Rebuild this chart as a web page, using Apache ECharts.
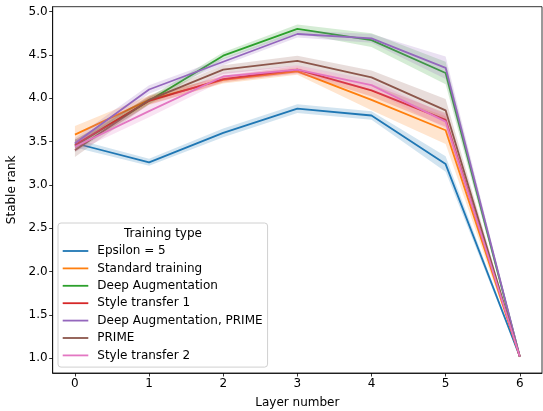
<!DOCTYPE html>
<html>
<head>
<meta charset="utf-8">
<script src="https://cdn.jsdelivr.net/npm/echarts@6/dist/echarts.min.js"></script>
<style>
  html, body { margin: 0; padding: 0; background: #fff; }
  #chart { width: 543px; height: 411px; }
</style>
</head>
<body>
<div id="chart"></div>
<script>
// layer index on x
const layers = [0, 1, 2, 3, 4, 5, 6];
const xTicks = [0, 1, 2, 3, 4, 5, 6];
const yTicks = [1.0, 1.5, 2.0, 2.5, 3.0, 3.5, 4.0, 4.5, 5.0];

// mean stable rank per training type
const epsilon5 = [3.48, 3.26, 3.60, 3.88, 3.80, 3.24, 1.02];
const standardTraining = [3.58, 3.98, 4.21, 4.31, 3.98, 3.63, 1.02];
const deepAug = [3.45, 3.97, 4.49, 4.80, 4.67, 4.29, 1.02];
const styleTransfer1 = [3.46, 3.97, 4.22, 4.33, 4.09, 3.75, 1.02];
const deepAugPrime = [3.48, 4.10, 4.42, 4.74, 4.69, 4.35, 1.02];
const prime = [3.40, 3.98, 4.33, 4.43, 4.24, 3.86, 1.02];
const styleTransfer2 = [3.44, 3.85, 4.25, 4.33, 4.15, 3.73, 1.02];

// half width of the confidence band
const epsilon5Ci = [0.05, 0.04, 0.05, 0.05, 0.05, 0.09, 0.01];
const standardTrainingCi = [0.10, 0.05, 0.04, 0.04, 0.12, 0.16, 0.01];
const deepAugCi = [0.07, 0.04, 0.04, 0.05, 0.08, 0.13, 0.01];
const styleTransfer1Ci = [0.06, 0.05, 0.04, 0.04, 0.07, 0.08, 0.01];
const deepAugPrimeCi = [0.06, 0.05, 0.04, 0.04, 0.05, 0.13, 0.01];
const primeCi = [0.08, 0.05, 0.05, 0.06, 0.08, 0.13, 0.01];
const styleTransfer2Ci = [0.06, 0.07, 0.05, 0.05, 0.06, 0.08, 0.01];

const groups = [
  { name: 'Epsilon = 5', color: '#1f77b4', mean: epsilon5, ci: epsilon5Ci },
  { name: 'Standard training', color: '#ff7f0e', mean: standardTraining, ci: standardTrainingCi },
  { name: 'Deep Augmentation', color: '#2ca02c', mean: deepAug, ci: deepAugCi },
  { name: 'Style transfer 1', color: '#d62728', mean: styleTransfer1, ci: styleTransfer1Ci },
  { name: 'Deep Augmentation, PRIME', color: '#9467bd', mean: deepAugPrime, ci: deepAugPrimeCi },
  { name: 'PRIME', color: '#8c564b', mean: prime, ci: primeCi },
  { name: 'Style transfer 2', color: '#e377c2', mean: styleTransfer2, ci: styleTransfer2Ci }
];

const font = 'DejaVu Sans';
const fs = 12;

// band polygon drawn once per group through the axis scales
function bandRenderer(g) {
  return function (params, api) {
    if (params.dataIndex !== 0) return null;
    const upper = layers.map((x, j) => api.coord([x, g.mean[j] + g.ci[j]]));
    const lower = layers.map((x, j) => api.coord([x, g.mean[j] - g.ci[j]])).reverse();
    return {
      type: 'polygon',
      shape: { points: upper.concat(lower) },
      style: { fill: g.color, opacity: 0.2 },
      silent: true
    };
  };
}

const series = [];
groups.forEach((g, i) => {
  series.push({
    name: g.name + ' band',
    type: 'custom',
    renderItem: bandRenderer(g),
    data: layers.map((x, j) => [x, g.mean[j] - g.ci[j], g.mean[j] + g.ci[j]]),
    encode: { x: 0, y: [1, 2] },
    clip: true,
    silent: true,
    z: 2 + i * 2
  });
  series.push({
    name: g.name,
    type: 'line',
    data: layers.map((x, j) => [x, g.mean[j]]),
    color: g.color,
    lineStyle: { color: g.color, width: 1.8 },
    symbol: 'none',
    z: 3 + i * 2
  });
});

const chart = echarts.init(document.getElementById('chart'), null, { renderer: 'canvas' });
chart.setOption({
  animation: false,
  backgroundColor: '#fff',
  grid: {
    left: 52.7, right: 1, top: 6.7, bottom: 38,
    outerBoundsMode: 'none',
    containLabel: false,
    show: true, borderColor: '#000', borderWidth: 0.8, backgroundColor: 'transparent'
  },
  xAxis: {
    type: 'value',
    min: -0.3,
    max: 6.3,
    name: 'Layer number',
    nameLocation: 'middle',
    nameGap: 24,
    nameTextStyle: { fontFamily: font, fontSize: fs, color: '#000' },
    axisLine: { show: true, onZero: false, lineStyle: { color: '#000', width: 0.8 } },
    axisTick: { show: true, customValues: xTicks, length: 3.5, lineStyle: { color: '#000', width: 0.8 } },
    axisLabel: { customValues: xTicks, fontFamily: font, fontSize: fs, color: '#000', margin: 5 },
    splitLine: { show: false }
  },
  yAxis: {
    type: 'value',
    min: 0.83,
    max: 5.055,
    name: 'Stable rank',
    nameLocation: 'middle',
    nameGap: 26,
    nameTextStyle: { fontFamily: font, fontSize: fs, color: '#000' },
    axisLine: { show: true, onZero: false, lineStyle: { color: '#000', width: 0.8 } },
    axisTick: { show: true, customValues: yTicks, length: 3.5, lineStyle: { color: '#000', width: 0.8 } },
    axisLabel: {
      customValues: yTicks, fontFamily: font, fontSize: fs, color: '#000', margin: 5,
      formatter: v => v.toFixed(1)
    },
    splitLine: { show: false }
  },
  legend: {
    orient: 'vertical',
    left: 58,
    top: 223,
    data: groups.map(g => g.name),
    icon: 'rect',
    itemWidth: 25.6,
    itemHeight: 1.8,
    itemGap: 5.4,
    padding: [22, 5, 5.7, 4.7],
    backgroundColor: 'rgba(255,255,255,0.8)',
    borderColor: '#d0d0d0',
    borderWidth: 1,
    borderRadius: 3,
    selectedMode: false,
    textStyle: { fontFamily: font, fontSize: fs, color: '#000', lineHeight: 12, padding: [0, 0, 0, 4] }
  },
  graphic: [{
    type: 'text',
    left: 124,
    top: 227.5,
    z: 100,
    style: { text: 'Training type', font: fs + 'px "DejaVu Sans"', fill: '#000' }
  }],
  series: series
});
</script>
</body>
</html>
